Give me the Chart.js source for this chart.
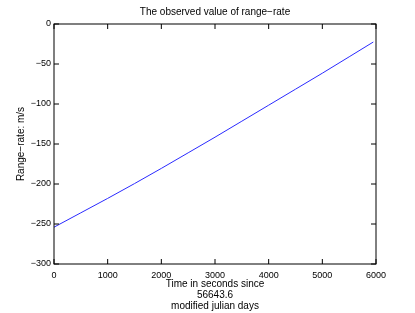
<!DOCTYPE html>
<html>
<head>
<meta charset="utf-8">
<title>The observed value of range-rate</title>
<script src="https://cdn.jsdelivr.net/npm/chart.js@4.4.1/dist/chart.umd.min.js"></script>
<style>
  html, body { margin: 0; padding: 0; background: #ffffff; }
  #wrap { width: 415px; height: 313px; }
</style>
</head>
<body>
<div id="wrap"><canvas id="chart-rangerate" width="415" height="313"></canvas></div>
<script>
const timeSeconds = [0, 500, 1000, 1500, 2000, 2500, 3000, 3500, 4000, 4500, 5000, 5500, 5950];
const rangeRate = [-254, -236, -218, -199.5, -180.5, -161, -141.5, -121.5, -101.5, -81.5, -61.5, -41, -22.5];

const xTickValues = [0, 1000, 2000, 3000, 4000, 5000, 6000];
const yTickValues = [0, -50, -100, -150, -200, -250, -300];

const FONT = '"Liberation Sans", Arial, Helvetica, sans-serif';
const INK = '#000000';
const TICK = 5;

// MATLAB-Optik: geschlossener Rahmen, Ticks nach innen auf allen vier Seiten.
const matlabFrame = {
  id: 'matlabFrame',
  afterDraw(chart) {
    const { ctx, chartArea: a, scales: { x, y } } = chart;
    ctx.save();
    ctx.strokeStyle = INK;
    ctx.lineWidth = 1;
    ctx.strokeRect(a.left, a.top, a.right - a.left, a.bottom - a.top);
    ctx.beginPath();
    x.ticks.forEach((t) => {
      const px = x.getPixelForValue(t.value);
      ctx.moveTo(px, a.bottom);
      ctx.lineTo(px, a.bottom - TICK);
      ctx.moveTo(px, a.top);
      ctx.lineTo(px, a.top + TICK);
    });
    y.ticks.forEach((t) => {
      const py = y.getPixelForValue(t.value);
      ctx.moveTo(a.left, py);
      ctx.lineTo(a.left + TICK, py);
      ctx.moveTo(a.right, py);
      ctx.lineTo(a.right - TICK, py);
    });
    ctx.stroke();
    ctx.restore();
  },
};

const minus = (value) => String(value).replace('-', '\u2212');

new Chart(document.getElementById('chart-rangerate'), {
  type: 'line',
  data: {
    datasets: [
      {
        data: timeSeconds.map((t, i) => ({ x: t, y: rangeRate[i] })),
        borderColor: '#2a2aff',
        borderWidth: 1,
        pointRadius: 0,
        tension: 0,
        fill: false,
      },
    ],
  },
  options: {
    responsive: false,
    animation: false,
    // Links 15px Rand + rechte Leerachse, damit der Titel über der Plotfläche zentriert ist.
    layout: { padding: { left: 15, right: 0, top: 0, bottom: 0 } },
    plugins: {
      legend: { display: false },
      tooltip: { enabled: false },
      title: {
        display: true,
        text: 'The observed value of range\u2212rate',
        color: INK,
        font: { family: FONT, size: 10, weight: 'normal', lineHeight: 1.2 },
        padding: { top: 6.5, bottom: 5.5 },
      },
    },
    scales: {
      x: {
        type: 'linear',
        min: 0,
        max: 6000,
        afterBuildTicks: (scale) => {
          scale.ticks = xTickValues.map((value) => ({ value }));
        },
        afterFit: (scale) => {
          scale.height = 49;
        },
        grid: { display: false, drawTicks: false },
        border: { display: false },
        ticks: {
          color: INK,
          padding: 6,
          maxRotation: 0,
          font: { family: FONT, size: 9 },
          callback: (value) => minus(value),
        },
        title: {
          display: true,
          text: ['Time in seconds since', '56643.6', 'modified julian days'],
          color: INK,
          font: { family: FONT, size: 10, lineHeight: 1.12 },
          padding: { top: 0, bottom: 1 },
        },
      },
      y: {
        type: 'linear',
        min: -300,
        max: 0,
        afterBuildTicks: (scale) => {
          scale.ticks = yTickValues.map((value) => ({ value }));
        },
        afterFit: (scale) => {
          scale.width = 39;
        },
        grid: { display: false, drawTicks: false },
        border: { display: false },
        ticks: {
          color: INK,
          padding: 3,
          font: { family: FONT, size: 9 },
          callback: (value) => minus(value),
        },
        title: {
          display: true,
          text: 'Range\u2212rate: m/s',
          color: INK,
          font: { family: FONT, size: 10, lineHeight: 1.2 },
          padding: { top: 0, bottom: 0 },
        },
      },
      yRight: {
        type: 'linear',
        position: 'right',
        min: -300,
        max: 0,
        afterFit: (scale) => {
          scale.width = 39;
        },
        grid: { display: false, drawTicks: false },
        border: { display: false },
        ticks: { display: false },
      },
    },
  },
  plugins: [matlabFrame],
});
</script>
</body>
</html>
